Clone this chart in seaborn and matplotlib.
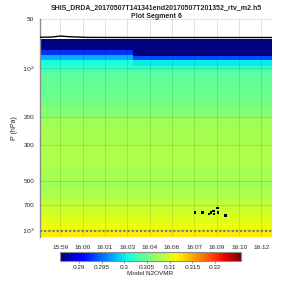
import numpy as np
import matplotlib
matplotlib.use("Agg")
import matplotlib.pyplot as plt
import seaborn as sns

# ---------------- data ----------------
title_lines = ["SHIS_DRDA_20170507T141341end20170507T201352_rtv_m2.h5", "Plot Segment 6"]

time_ticks = [0, 1, 2, 3, 4, 5, 6, 7, 8, 9]
time_tick_labels = ["15:59", "16:00", "16:01", "16:03", "16:04", "16:06", "16:07", "16:09", "16:10", "16:12"]
time_edges = [-0.91, 3.24, 9.47]          # two groups of profiles (early / late)

pressure_edges = [66.4, 77.5, 83.2, 84.4, 89.3, 97.2, 102.9, 107.3, 123.6, 150.6, 175.0,
                  199.6, 240.0, 297.0, 400.0, 500.0, 561.0, 646.0, 700.0, 760.0, 830.0,
                  900.0, 960.0, 1014.0, 1100.0]
n2o_early = [0.2850, 0.2928, 0.2978, 0.2978, 0.3010, 0.3026, 0.3034, 0.3044, 0.3048, 0.3054,
             0.3062, 0.3075, 0.3079, 0.3082, 0.3079, 0.3076, 0.3082, 0.3088, 0.3094, 0.3101,
             0.3107, 0.3111, 0.3115, 0.3120]
n2o_late = [0.2850, 0.2850, 0.2850, 0.2938, 0.3000, 0.3026, 0.3034, 0.3044, 0.3048, 0.3054,
            0.3062, 0.3075, 0.3079, 0.3082, 0.3079, 0.3076, 0.3082, 0.3088, 0.3094, 0.3101,
            0.3107, 0.3111, 0.3115, 0.3120]

aircraft_t = [-0.91, -0.4, 0.0, 0.4, 1.2, 3.0, 6.0, 9.47]
aircraft_p = [64.8, 64.6, 63.7, 64.3, 64.9, 65.0, 65.0, 65.0]

surface_t = [-0.91, 9.47]
surface_p = [1008.0, 1008.0]

cloud_t = [6.02, 6.37, 6.66, 6.74, 6.84, 6.87, 7.04, 7.05, 7.40]
cloud_p = [779.0, 779.0, 794.0, 779.0, 762.0, 794.0, 731.0, 779.0, 809.0]

cbar_ticks = [0.29, 0.295, 0.3, 0.305, 0.31, 0.315, 0.32]
cbar_tick_labels = ["0.29", "0.295", "0.3", "0.305", "0.31", "0.315", "0.32"]
vmin, vmax = 0.2858, 0.3257

# ---------------- plot ----------------
sns.set_style("white")
plt.rcParams["font.family"] = ["Liberation Sans", "DejaVu Sans"]

fig = plt.figure(figsize=(3, 3), dpi=100)
ax = fig.add_axes([40 / 300, 63 / 300, 232 / 300, 218 / 300])

Z = np.column_stack([n2o_early, n2o_late])
mesh = ax.pcolormesh(time_edges, pressure_edges, Z, cmap="jet", vmin=vmin, vmax=vmax,
                     shading="flat", zorder=1)

sns.lineplot(x=aircraft_t, y=aircraft_p, ax=ax, color="black", linewidth=1.0,
             sort=False, estimator=None, zorder=4)
ax.plot(surface_t, surface_p, color="#7a7a7a", linewidth=1.5,
        linestyle=(0, (1, 1)), zorder=4)
sns.scatterplot(x=cloud_t, y=cloud_p, ax=ax, color="black", s=3.5, marker="s",
                edgecolor="none", zorder=5)

ax.set_yscale("log")
ax.set_ylim(1100, 50)
ax.set_xlim(time_edges[0], time_edges[-1])

yt = [50, 100, 200, 300, 500, 700, 1000]
ytl = ["50", "$10^2$", "200", "300", "500", "700", "$10^3$"]
ax.set_yticks(yt)
ax.set_yticklabels(ytl)
ax.yaxis.set_minor_locator(matplotlib.ticker.NullLocator())
ax.set_xticks(time_ticks)
ax.set_xticklabels(time_tick_labels)

ax.tick_params(axis="both", labelsize=4.6, length=2, width=0.5, color="#555555",
               pad=2, direction="out")
ax.tick_params(axis="x", pad=4)

ax.grid(True, color="black", alpha=0.13, linewidth=0.6)
ax.set_axisbelow(False)

for s in ["top", "right", "bottom"]:
    ax.spines[s].set_visible(False)
ax.spines["left"].set_color("#8c8c8c")
ax.spines["left"].set_linewidth(1.0)

ax.set_ylabel("P (hPa)", fontsize=5, labelpad=3)
ax.set_xlabel("")
ax.set_title("\n".join(title_lines), fontsize=5.0, fontweight="bold", pad=1,
             linespacing=1.25)

cax = fig.add_axes([60 / 300, 39 / 300, 181 / 300, 9 / 300])
cb = fig.colorbar(mesh, cax=cax, orientation="horizontal")
cb.set_ticks(cbar_ticks)
cb.set_ticklabels(cbar_tick_labels)
cb.ax.tick_params(labelsize=4.6, length=1.5, width=0.4, pad=1.5)
cb.outline.set_edgecolor("#8c8c8c")
cb.outline.set_linewidth(0.8)
cb.set_label("Model N2OVMR", fontsize=4.6, labelpad=0.5)

fig.savefig("out.png", dpi=100)
